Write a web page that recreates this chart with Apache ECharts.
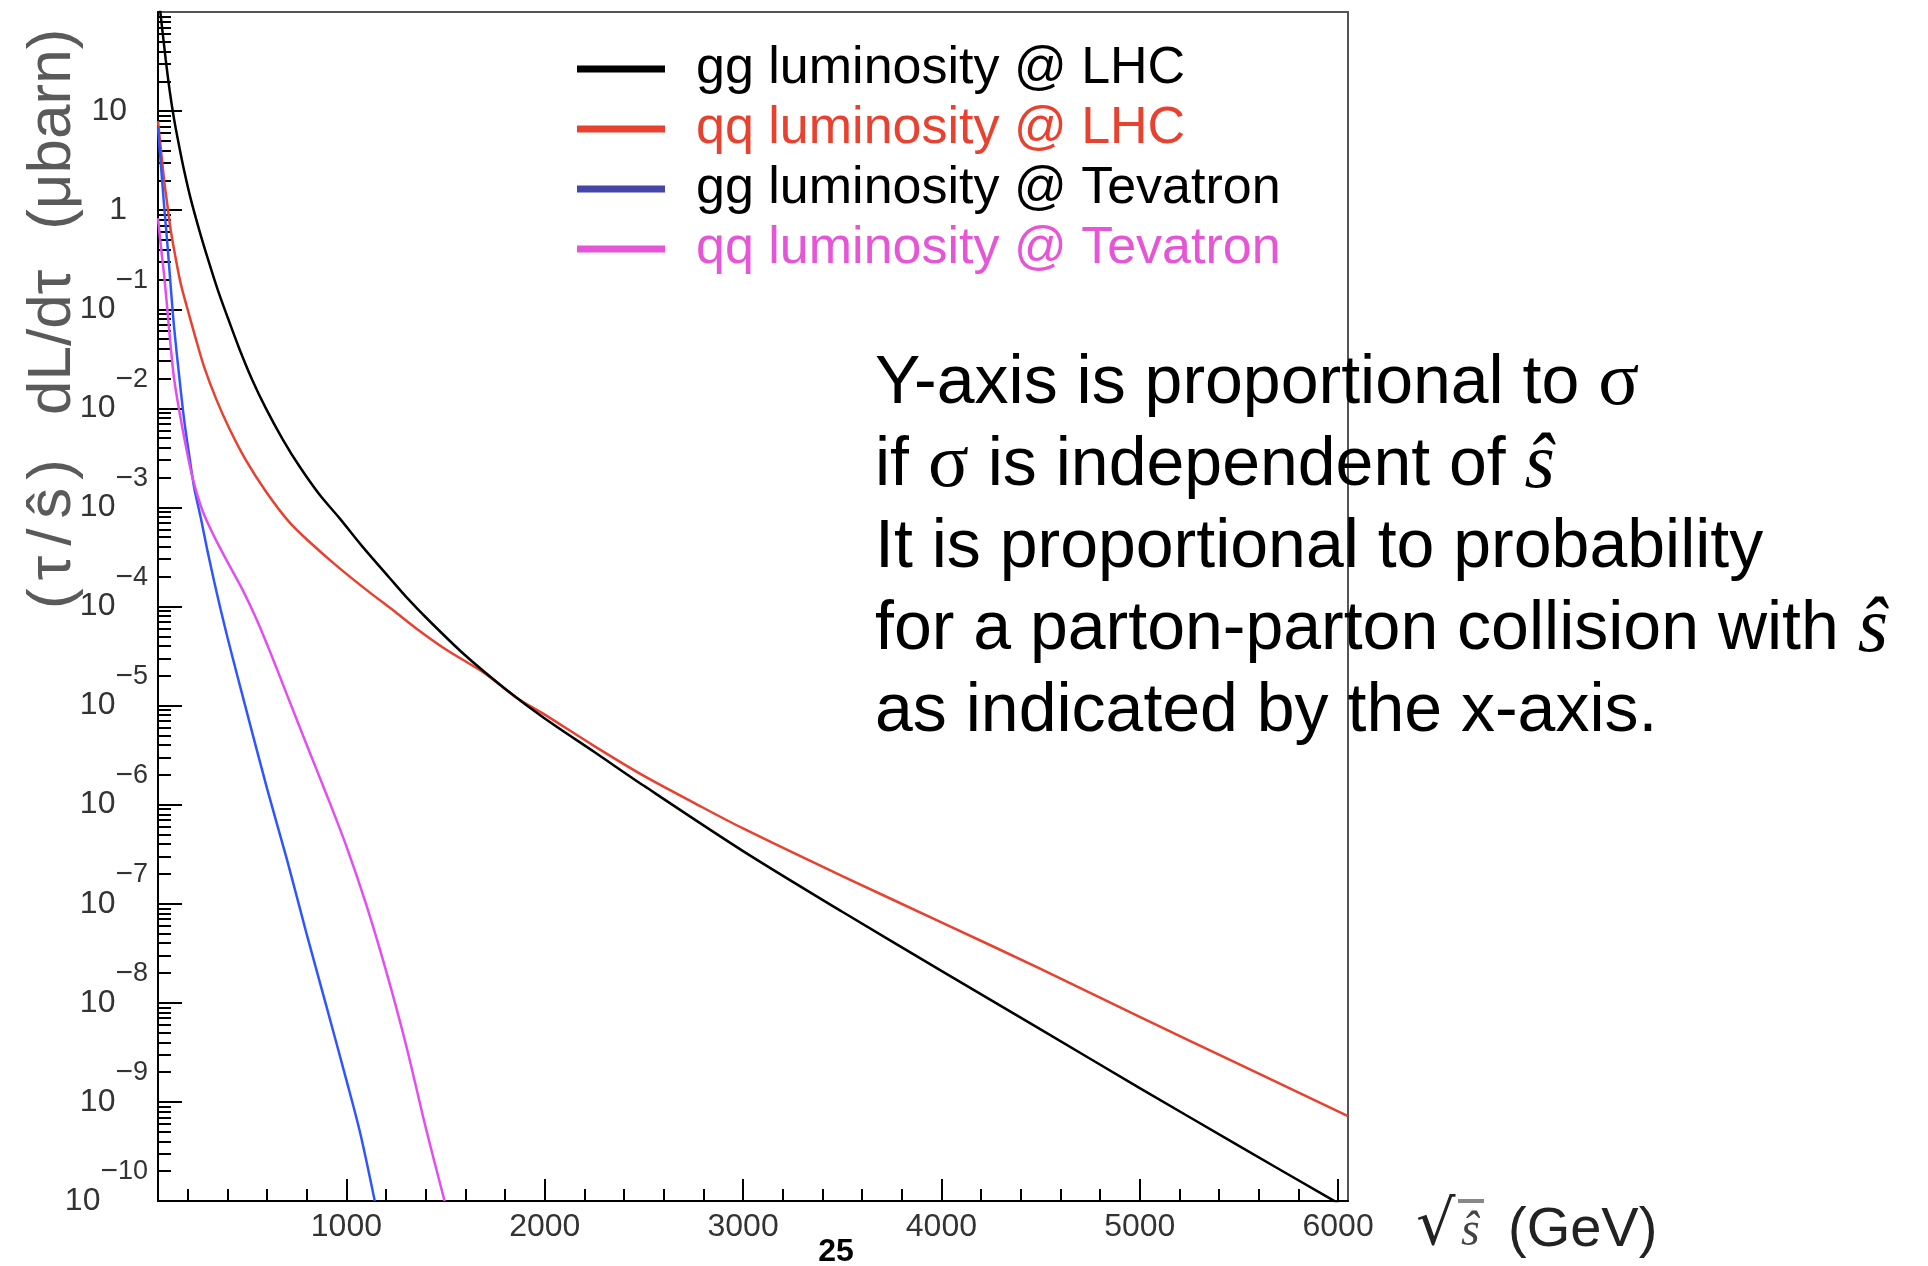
<!DOCTYPE html>
<html><head><meta charset="utf-8">
<script src="https://cdn.jsdelivr.net/npm/echarts@6/dist/echarts.min.js"></script>
<style>html,body{margin:0;padding:0;background:#fff}#c{width:1928px;height:1266px}</style>
</head><body><div id="c"></div>
<script>
// ---- data (x = sqrt(s-hat) in GeV, y = (tau/s) dL/dtau in microbarn) ----
const ggLHC = [[50,160],[64,91],[89,33],[109,16],[131,8.3],[157,4.4],[182,2.5],[215,1.3],[258,0.63],[300,0.33],[350,0.16],[401,0.083],[460,0.040],[527,0.019],[594,0.010],[678,4.9e-3],[763,2.6e-3],[864,1.35e-3],[965,7.8e-4],[1082,4.0e-4],[1217,1.95e-4],[1300,1.26e-4],[1420,7.1e-5],[1600,3.2e-5],[1800,1.48e-5],[2000,7.4e-6],[2250,3.4e-6],[2500,1.55e-6],[3000,3.4e-7],[3500,8.3e-8],[4000,2.1e-8],[4500,5.4e-9],[5000,1.38e-9],[5500,3.6e-10],[6000,9.5e-11]];
const qqLHC = [[50,7.9],[64,4.2],[81,2.0],[98,1.1],[114,0.63],[140,0.32],[165,0.18],[199,0.10],[241,0.050],[283,0.026],[342,0.0126],[409,6.3e-3],[493,3.0e-3],[594,1.45e-3],[712,7.1e-4],[813,4.5e-4],[948,2.6e-4],[1099,1.48e-4],[1250,8.7e-5],[1352,6.0e-5],[1500,3.7e-5],[1700,2.1e-5],[1850,1.23e-5],[2000,8.1e-6],[2250,3.9e-6],[2500,1.95e-6],[2750,1.05e-6],[3000,5.75e-7],[3500,1.9e-7],[4000,6.5e-8],[4500,2.2e-8],[5000,7.2e-9],[5500,2.4e-9],[6050,7.2e-10]];
const ggTev = [[50,6.9],[65,2.8],[81,1.1],[98,0.44],[114,0.17],[131,0.066],[157,0.021],[182,7.6e-3],[207,3.4e-3],[232,1.6e-3],[266,7.8e-4],[300,3.6e-4],[333,1.8e-4],[365,9.5e-5],[400,4.9e-5],[450,2.0e-5],[500,8.3e-6],[600,1.45e-6],[700,2.8e-7],[800,4.9e-8],[900,9.1e-9],[1000,1.66e-9],[1070,4.8e-10],[1143,1.0e-10]];
const qqTev = [[50,0.83],[64,0.44],[81,0.22],[98,0.095],[114,0.042],[131,0.020],[157,9.5e-3],[190,4.2e-3],[224,2.0e-3],[274,9.3e-4],[333,5.1e-4],[401,2.8e-4],[476,1.48e-4],[550,7.2e-5],[620,3.3e-5],[700,1.29e-5],[800,4.0e-6],[900,1.26e-6],[1000,3.8e-7],[1100,9.8e-8],[1200,2.1e-8],[1300,3.8e-9],[1400,5.5e-10],[1495,1.0e-10]];

const seriesNames = ['gg luminosity @ LHC','qq luminosity @ LHC','gg luminosity @ Tevatron','qq luminosity @ Tevatron'];
const xMajorTicks = [1000,2000,3000,4000,5000,6000];
const xMinorTicks = [200,400,600,800,1200,1400,1600,1800,2200,2400,2600,2800,3200,3400,3600,3800,4200,4400,4600,4800,5200,5400,5600,5800];
const yDecadeExponents = [-10,-9,-8,-7,-6,-5,-4,-3,-2,-1,0,1];
const yMinorMultipliers = [2,3,4,5,6,7,8,9];

// log-transform for a linear axis measured in decades
const toLog = arr => arr.map(p => [p[0], Math.log10(p[1])]);
const yMinorTicks = [];
yDecadeExponents.forEach(e => yMinorMultipliers.forEach(m => yMinorTicks.push(e + Math.log10(m))));

const FONT = "'Liberation Sans', Arial, Helvetica, sans-serif";
const SERIF = "'Liberation Serif', 'Times New Roman', serif";
const lineColors = ['#000000','#e8412f','#2f55ff','#e24ef0'];
const legendColors = ['#000000','#e8412f','#4646a6','#e655d6'];
const legendTextColors = ['#000000','#e8412f','#000000','#e655d6'];

const chart = echarts.init(document.getElementById('c'), null, {width:1928, height:1266});
const tickStyle = {color:'#000', width:2};
const LBL = '#333';
chart.setOption({
  animation:false,
  backgroundColor:'#ffffff',
  grid:{left:158, top:12, right:580, bottom:65, show:true, borderColor:'#555', borderWidth:2, containLabel:false},
  legend:{
    orient:'vertical', left:572, top:38, icon:'rect', itemWidth:88, itemHeight:7, itemGap:8,
    selectedMode:false,
    textStyle:{fontSize:52, lineHeight:50, fontFamily:FONT, padding:[0,0,0,26]},
    data: seriesNames.map((n,i)=>({name:n, itemStyle:{color:legendColors[i]}, textStyle:{color:legendTextColors[i]}}))
  },
  xAxis:[{
    type:'value', min:50, max:6050, position:'bottom',
    axisLine:{onZero:false, lineStyle:tickStyle},
    axisTick:{customValues:xMajorTicks, inside:true, length:22, lineStyle:tickStyle},
    axisLabel:{customValues:xMajorTicks, fontSize:32, margin:10, color:LBL, fontFamily:FONT, formatter: v => String(Math.round(v))},
    splitLine:{show:false}
  },{
    type:'value', min:50, max:6050, position:'bottom',
    axisLine:{show:false, onZero:false},
    axisTick:{customValues:xMinorTicks, inside:true, length:12, lineStyle:tickStyle},
    axisLabel:{show:false}, splitLine:{show:false}
  }],
  yAxis:[{
    type:'value', min:-10, max:2, interval:1, position:'left',
    axisLine:{onZero:false, lineStyle:tickStyle},
    axisTick:{inside:true, length:24, lineStyle:tickStyle},
    axisLabel:{
      margin:10, fontSize:32, color:LBL, fontFamily:FONT, showMaxLabel:false,
      formatter: v => { const e = Math.round(v); if (e >= 2) return ''; if (e === 1) return '{p|10}'; if (e === 0) return '{p|1}'; return '{b|10}{m|\u2212}{s|' + (-e) + '}'; },
      rich:{
        p:{fontSize:32, padding:[0,21,0,0], verticalAlign:'middle', color:LBL, fontFamily:FONT},
        b:{fontSize:32, verticalAlign:'middle', color:LBL, fontFamily:FONT},
        m:{fontSize:30, padding:[0,0,58,0], verticalAlign:'middle', color:LBL, fontFamily:FONT},
        s:{fontSize:27, padding:[0,0,58,0], verticalAlign:'middle', color:LBL, fontFamily:FONT}
      }
    },
    splitLine:{show:false}
  },{
    type:'value', min:-10, max:2, interval:1, position:'left',
    axisLine:{show:false, onZero:false},
    axisTick:{customValues:yMinorTicks, inside:true, length:13, lineStyle:tickStyle},
    axisLabel:{show:false}, splitLine:{show:false}
  }],
  series:[ggLHC, qqLHC, ggTev, qqTev].map((d,i)=>({
    name:seriesNames[i], type:'line', xAxisIndex:0, yAxisIndex:0,
    data:toLog(d), showSymbol:false, smooth:0.3, clip:true,
    lineStyle:{color:lineColors[i], width:2.5}, itemStyle:{color:lineColors[i]}, z: (i===0?4:3)
  })),
  graphic:[
    { type:'text', x:53, y:609, rotation:Math.PI/2, z:10,
      style:{ text:'{a|(}{b|\u03c4}{c|/}{d|\u015d}{e|)}{f|dL/d\u03c4}{i|(\u03bcbarn)}',
        align:'left', verticalAlign:'middle', fontSize:62, fill:'#5a5a5a', fontFamily:FONT,
        rich:{
          a:{fontSize:62},
          b:{fontSize:62, padding:[0,0,0,8]},
          c:{fontSize:62, padding:[0,0,0,10]},
          d:{fontSize:62, padding:[0,0,0,10]},
          e:{fontSize:62, padding:[0,0,0,8]},
          f:{fontSize:62, padding:[0,0,0,44]},
          i:{fontSize:62, padding:[0,0,0,40]}
        } } },
    { type:'text', left:875, top:343, z:10,
      style:{ text:'Y-axis is proportional to {sig|\u03c3}\nif {sig|\u03c3} is independent of {sh|\u015d}\nIt is proportional to probability\nfor a parton-parton collision with {sh|\u015d}\nas indicated by the x-axis.',
        fontSize:68, lineHeight:82, fontFamily:FONT, fill:'#000',
        rich:{
          sig:{fontFamily:SERIF, fontSize:76, lineHeight:82},
          sh:{fontFamily:SERIF, fontStyle:'italic', fontSize:78, lineHeight:82}
        } } },
    { type:'text', x:1416, y:1228, z:10,
      style:{ text:'\u221a', fontSize:62, fontFamily:"'DejaVu Serif', 'Liberation Serif', serif", fill:'#222', align:'left', verticalAlign:'middle' } },
    { type:'rect', z:10, shape:{x:1458, y:1199, width:26, height:4}, style:{fill:'#888'} },
    { type:'text', x:1461, y:1232, z:10,
      style:{ text:'\u015d', fontSize:48, fontStyle:'italic', fontFamily:SERIF, fill:'#444', align:'left', verticalAlign:'middle' } },
    { type:'text', x:1508, y:1231, z:10,
      style:{ text:'(GeV)', fontSize:56, fontFamily:FONT, fill:'#222', align:'left', verticalAlign:'middle' } },
    { type:'text', x:836, y:1252, z:10,
      style:{ text:'25', fontSize:32, fontWeight:'bold', fontFamily:"'Liberation Sans Narrow', 'Liberation Sans', sans-serif", fill:'#000', align:'center', verticalAlign:'middle' } }
  ]
});
</script>
</body></html>
